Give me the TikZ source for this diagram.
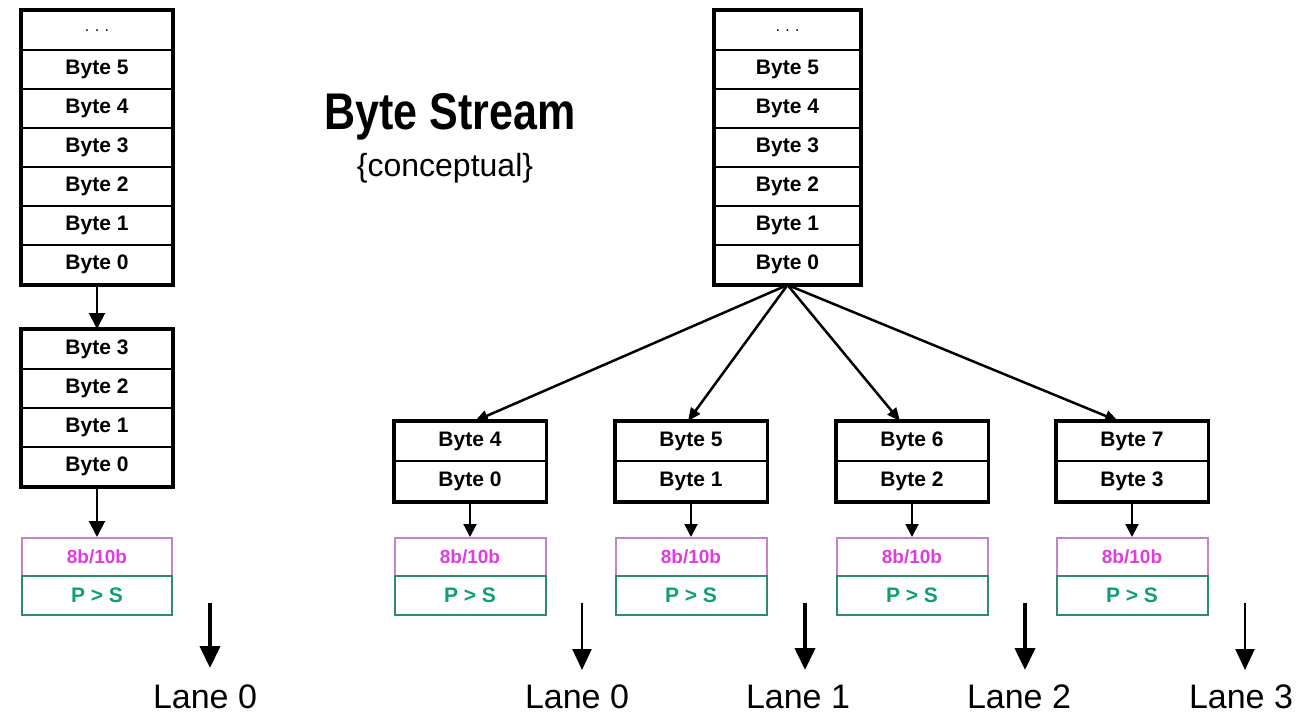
\documentclass[tikz,border=0pt]{standalone}
\usepackage{fontspec}
\setmainfont{Liberation Sans}
\usetikzlibrary{arrows.meta,calc}
\definecolor{pinkb}{HTML}{C483C8}
\definecolor{pinkt}{HTML}{E03CE0}
\definecolor{greenb}{HTML}{2E8A6C}
\definecolor{greent}{HTML}{0E9E78}
\begin{document}
\begin{tikzpicture}[x=1pt,y=-1pt,
  cell/.style={draw, line width=2pt, minimum width=150pt, minimum height=39pt,
    inner sep=0pt, anchor=north, font=\fontsize{21}{21}\selectfont\bfseries},
  rcell/.style={cell, minimum width=145pt},
  lcell/.style={cell, minimum width=151pt},
  frame/.style={draw, line width=3.5pt},
  enc/.style={draw=pinkb, line width=2pt, minimum width=150pt, minimum height=38pt,
    inner sep=0pt, anchor=north, text=pinkt, font=\fontsize{19}{19}\selectfont\bfseries},
  ser/.style={draw=greenb, line width=2pt, minimum width=150pt, minimum height=39pt,
    inner sep=0pt, anchor=north, text=greent, font=\fontsize{21}{21}\selectfont\bfseries},
  arr/.style={line width=2pt, -{Triangle[length=16pt,width=16pt]}},
  sarr/.style={line width=2pt, -{Triangle[length=13pt,width=13pt]}},
  fan/.style={line width=2.5pt, -{Triangle[length=13pt,width=11pt]}},
  thick lane/.style={line width=4pt, -{Triangle[length=22pt,width=20pt]}},
  thin lane/.style={line width=2.5pt, -{Triangle[length=21pt,width=19pt]}},
  lanelbl/.style={anchor=base, inner sep=0pt, font=\fontsize{34}{34}\selectfont},
  dots/.style={font=\fontsize{16}{16}\selectfont}
]
\useasboundingbox (0,0) rectangle (1304,714);
\fill[white] (0,0) rectangle (1304,714);

% ---------- left column ----------
\node[cell] (a6) at (97,10) {\normalfont\fontsize{16}{16}\selectfont .\,\,.\,\,.};
\node[cell] (a5) at (97,49) {Byte 5};
\node[cell] (a4) at (97,88) {Byte 4};
\node[cell] (a3) at (97,127) {Byte 3};
\node[cell] (a2) at (97,166) {Byte 2};
\node[cell] (a1) at (97,205) {Byte 1};
\node[cell] (a0) at (97,244) {Byte 0};
\draw[frame] (a6.north west) rectangle (a0.south east);

\node[cell] (b3) at (97,329) {Byte 3};
\node[cell] (b2) at (97,368) {Byte 2};
\node[cell] (b1) at (97,407) {Byte 1};
\node[cell] (b0) at (97,446) {Byte 0};
\draw[frame] (b3.north west) rectangle (b0.south east);
\draw[arr] (a0.south) -- (b3.north);

\node[enc] (c0) at (97,537) {8b/10b};
\node[ser] (d0) at (97,575) {P > S};
\draw[arr] (b0.south) -- (c0.north);

\coordinate (la0) at (210,603);
\coordinate (lb0) at (210,668);
\draw[thick lane] (la0) -- (lb0);
\node[lanelbl] (L0) at (205,708) {Lane 0};

% ---------- title ----------
\node[anchor=base, inner sep=0pt, font=\fontsize{43}{43}\selectfont\bfseries] (title) at (450,130) {\scalebox{1}[1.2]{Byte Stream}};
\node[anchor=base, inner sep=0pt, font=\fontsize{32}{32}\selectfont] (sub) at (445,177) {\{conceptual\}};

% ---------- right stack ----------
\node[rcell] (s6) at (787.5,10) {\normalfont\fontsize{16}{16}\selectfont .\,\,.\,\,.};
\node[rcell] (s5) at (787.5,49) {Byte 5};
\node[rcell] (s4) at (787.5,88) {Byte 4};
\node[rcell] (s3) at (787.5,127) {Byte 3};
\node[rcell] (s2) at (787.5,166) {Byte 2};
\node[rcell] (s1) at (787.5,205) {Byte 1};
\node[rcell] (s0) at (787.5,244) {Byte 0};
\draw[frame] (s6.north west) rectangle (s0.south east);

% ---------- lanes ----------
\foreach \n/\x/\hi/\lo/\dx/\ax/\lx/\st in {1/470/Byte 4/Byte 0/5/582/577/thin lane,
                                        2/691/Byte 5/Byte 1/-3/805/798/thick lane,
                                        3/912/Byte 6/Byte 2/-12/1025/1019/thick lane,
                                        4/1132/Byte 7/Byte 3/-14/1245/1241/thin lane}{
  \node[lcell] (u\n) at (\x,421) {\hi};
  \node[lcell, minimum height=40pt] (v\n) at (\x,460) {\lo};
  \draw[frame] (u\n.north west) rectangle (v\n.south east);
  \node[enc, minimum width=151pt] (e\n) at (\x,537) {8b/10b};
  \node[ser, minimum width=151pt] (p\n) at (\x,575) {P > S};
  \draw[sarr] (v\n.south) -- (e\n.north);
  \draw[fan] (s0.south) -- ([xshift=\dx pt]u\n.north);
  \coordinate (ta\n) at (\ax,603);
  \coordinate (tb\n) at (\ax,670);
  \draw[\st] (ta\n) -- (tb\n);
}
\node[lanelbl] (M0) at (577,708) {Lane 0};
\node[lanelbl] (M1) at (798,708) {Lane 1};
\node[lanelbl] (M2) at (1019,708) {Lane 2};
\node[lanelbl] (M3) at (1241,708) {Lane 3};
\end{tikzpicture}
\end{document}
